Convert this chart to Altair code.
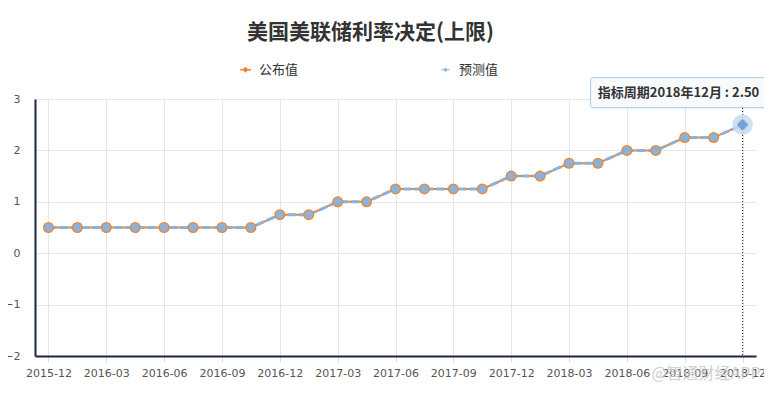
import altair as alt
import pandas as pd

dates = ["2015-12", "2016-01", "2016-03", "2016-04", "2016-06", "2016-07", "2016-09",
         "2016-11", "2016-12", "2017-02", "2017-03", "2017-05", "2017-06", "2017-07",
         "2017-09", "2017-11", "2017-12", "2018-01", "2018-03", "2018-05", "2018-06",
         "2018-08", "2018-09", "2018-11", "2018-12"]
actual = [0.5, 0.5, 0.5, 0.5, 0.5, 0.5, 0.5, 0.5, 0.75, 0.75, 1.0, 1.0, 1.25, 1.25,
          1.25, 1.25, 1.5, 1.5, 1.75, 1.75, 2.0, 2.0, 2.25, 2.25, 2.5]
forecast = [0.5, 0.5, 0.5, 0.5, 0.5, 0.5, 0.5, 0.5, 0.75, 0.75, 1.0, 1.0, 1.25, 1.25,
            1.25, 1.25, 1.5, 1.5, 1.75, 1.75, 2.0, 2.0, 2.25, 2.25, 2.5]
series_names = ["公布值", "预测值"]
label_dates = ["2015-12", "2016-03", "2016-06", "2016-09", "2016-12", "2017-03", "2017-06",
               "2017-09", "2017-12", "2018-03", "2018-06", "2018-09", "2018-12"]
y_ticks = [-2, -1, 0, 1, 2, 3]
title_text = "美国美联储利率决定(上限)"
watermark = "@智通财经APP"

ORANGE = "#f0852d"
BLUE = "#8cb2da"
CJK = "Noto Sans CJK SC"

df_a = pd.DataFrame({"date": dates, "value": actual, "series": series_names[0]})
df_f = pd.DataFrame({"date": dates, "value": forecast, "series": series_names[1]})
df_all = pd.concat([df_a, df_f], ignore_index=True)

last_date = dates[-1]
last_val = forecast[-1]
yy, mm = last_date.split("-")
tip = f"指标周期{yy}年{int(mm)}月 : {last_val:.2f}"
df_last = pd.DataFrame({"date": [last_date], "value": [last_val], "tip": [tip],
                        "low": [y_ticks[0]], "high": [y_ticks[-1]]})

x_enc = alt.X("date:O", sort=dates,
              scale=alt.Scale(type="point", padding=0.465),
              axis=alt.Axis(values=label_dates, labelAngle=0, labelAlign="center",
                            title=None,
                            grid=True, gridColor="#e6e6e6",
                            domainColor="#1c2541", domainWidth=2,
                            ticks=True, tickColor="#dddddd", tickSize=6,
                            labelFont="DejaVu Sans", labelFontSize=11,
                            labelColor="#555555", labelPadding=11))
y_enc = alt.Y("value:Q",
              scale=alt.Scale(domain=[y_ticks[0], y_ticks[-1]], nice=False),
              axis=alt.Axis(values=y_ticks, title=None, grid=True,
                            gridColor="#e6e6e6", domainColor="#1c2541",
                            domainWidth=2, ticks=False, labelPadding=15,
                            labelFont="DejaVu Sans", labelFontSize=11,
                            labelColor="#555555"))

legend_path = ("M-1,-0.13L-0.42,-0.13L0,-0.55L0.42,-0.13L1,-0.13L1,0.13"
               "L0.42,0.13L0,0.55L-0.42,0.13L-1,0.13Z")

rule = alt.Chart(df_last).mark_rule(color="#222222", strokeDash=[1, 2], strokeWidth=1).encode(
    x=alt.X("date:O", sort=dates), y=alt.Y("high:Q"), y2="low:Q")

line_a = alt.Chart(df_a).mark_line(color=ORANGE, strokeWidth=2).encode(x=x_enc, y=y_enc)
line_f = alt.Chart(df_f).mark_line(color=BLUE, strokeWidth=3, strokeDash=[8, 3]).encode(
    x=alt.X("date:O", sort=dates), y="value:Q")

points = alt.Chart(df_all).mark_point(filled=True, shape="circle", opacity=1).encode(
    x=alt.X("date:O", sort=dates), y="value:Q",
    color=alt.Color("series:N",
                    scale=alt.Scale(domain=series_names, range=[ORANGE, BLUE]),
                    legend=alt.Legend(title=None, orient="none", legendX=204, legendY=-36,
                                      direction="horizontal", columns=2,
                                      columnPadding=140, symbolType=legend_path,
                                      symbolSize=300, symbolStrokeWidth=0,
                                      labelOffset=7, labelFont=CJK, labelFontSize=13,
                                      labelColor="#333333", padding=0, symbolOpacity=1)),
    size=alt.Size("series:N", scale=alt.Scale(domain=series_names, range=[121, 72]),
                  legend=None),
    order=alt.Order("series:N", sort="ascending"))

halo = alt.Chart(df_last).mark_point(filled=True, shape="circle", size=420,
                                     color="#c5dbf2", opacity=0.85).encode(
    x=alt.X("date:O", sort=dates), y="value:Q")
diamond = alt.Chart(df_last).mark_point(filled=True, shape="diamond", size=130,
                                        color="#6ea3dc", opacity=1).encode(
    x=alt.X("date:O", sort=dates), y="value:Q")

tip_box = alt.Chart(df_last).mark_rect(fill="#f8fafc", stroke="#a9c6e3", strokeWidth=1,
                                       cornerRadius=2, xOffset=-152, x2Offset=25,
                                       yOffset=-47, y2Offset=-17).encode(
    x=alt.X("date:O", sort=dates), x2="date", y="value:Q", y2="value")
tip_text = alt.Chart(df_last).mark_text(font=CJK, fontSize=13, fontWeight="bold",
                                        color="#333333", dx=-64, dy=-32,
                                        baseline="middle", align="center").encode(
    x=alt.X("date:O", sort=dates), y="value:Q", text="tip:N")

wm_df = pd.DataFrame({"t": [watermark]})
wm = alt.Chart(wm_df).mark_text(font=CJK, fontSize=16, color="#c8c8c8", opacity=0.85,
                                align="center", baseline="middle").encode(
    x=alt.value(671), y=alt.value(275), text="t:N")

chart = alt.layer(rule, line_a, line_f, points, halo, diamond, tip_box, tip_text, wm).properties(
    width=721, height=257,
    title=alt.TitleParams(title_text, font=CJK, fontSize=21, fontWeight="bold",
                          color="#333333", anchor="middle", frame="group", dx=-25,
                          offset=20),
    autosize=alt.AutoSizeParams(type="none"),
    padding={"left": 27, "top": 91, "right": 8, "bottom": 27},
    background="white",
).configure_view(stroke=None)

chart.save("out.html", embed_options={"renderer": "svg", "actions": False})
